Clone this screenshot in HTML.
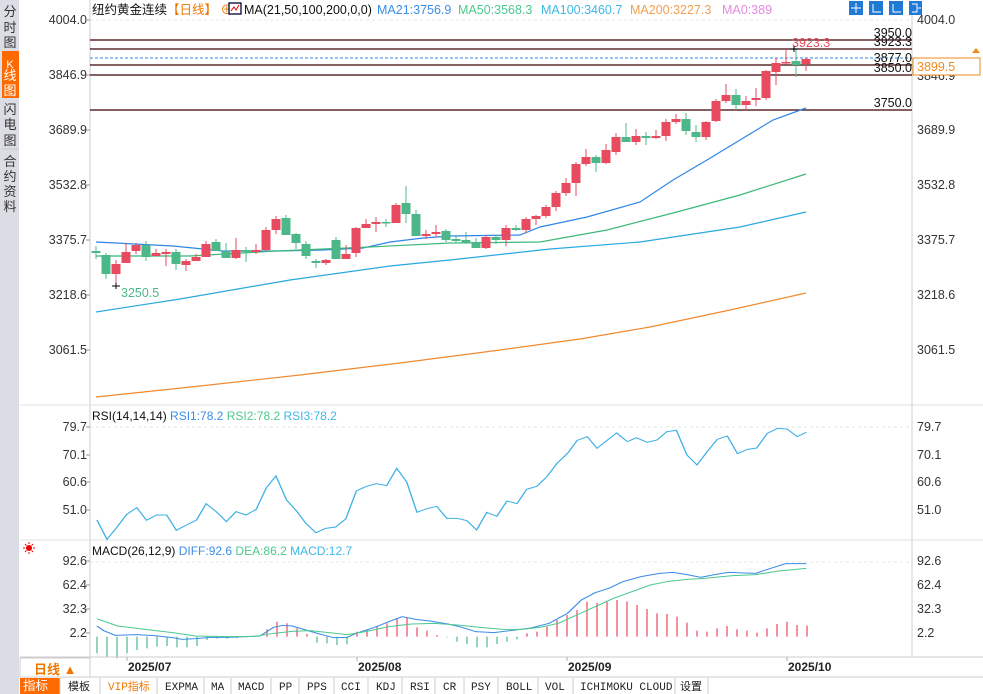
<!DOCTYPE html>
<html><head><meta charset="utf-8"><style>
body{margin:0;width:983px;height:694px;overflow:hidden;background:#fff;font-family:"Liberation Sans","Noto Sans CJK SC",sans-serif;}
svg{position:absolute;left:0;top:0}
</style></head><body>
<svg id="s" width="983" height="694" xmlns="http://www.w3.org/2000/svg" font-family="Liberation Sans, Noto Sans CJK SC, sans-serif" font-size="12">
<rect x="0" y="0" width="19" height="694" fill="#dcdde4"/>
<rect x="2" y="51" width="17" height="47" fill="#ff6a00"/>
<g font-size="13" fill="#333" text-anchor="middle">
<text x="10" y="16">分</text><text x="10" y="32">时</text><text x="10" y="47">图</text>
<text x="10" y="68" fill="#fff" font-size="11">K</text><text x="10" y="80" fill="#fff">线</text><text x="10" y="95" fill="#fff">图</text>
<text x="10" y="114">闪</text><text x="10" y="129">电</text><text x="10" y="145">图</text>
<text x="10" y="166">合</text><text x="10" y="181">约</text><text x="10" y="196">资</text><text x="10" y="211">料</text>
</g>
<line x1="2" y1="149" x2="19" y2="149" stroke="#c8c8d0"/>
<line x1="90" y1="0" x2="90" y2="657" stroke="#ccc"/>
<line x1="912" y1="12" x2="912" y2="657" stroke="#ccc"/>
<line x1="20" y1="405" x2="983" y2="405" stroke="#e0e0e0"/>
<line x1="20" y1="540" x2="983" y2="540" stroke="#e0e0e0"/>
<line x1="90" y1="20" x2="912" y2="20" stroke="#e6e6e6" stroke-dasharray="3,3"/>
<line x1="90" y1="427" x2="912" y2="427" stroke="#e6e6e6" stroke-dasharray="3,3"/>
<line x1="90" y1="562" x2="912" y2="562" stroke="#e6e6e6" stroke-dasharray="3,3"/>
<g fill="#333" font-size="12.5" text-anchor="end" id="la"></g>
<g fill="#333" font-size="12.5" id="ra"></g>
<!-- header -->
<text x="92" y="14" font-size="12.5" fill="#111">纽约黄金连续<tspan fill="#f07800">【日线】 ⊕</tspan></text>
<rect x="229" y="3" width="12" height="11" fill="#fff" stroke="#003" stroke-width="1.3"/>
<polyline points="231,11 234,7 236,10 239,5" fill="none" stroke="#d00"/>
<g font-size="12.5">
<text x="244" y="14" fill="#111">MA(21,50,100,200,0,0)</text>
<text x="377" y="14" fill="#3b8de8">MA21:3756.9</text>
<text x="458" y="14" fill="#4cc98f">MA50:3568.3</text>
<text x="541" y="14" fill="#3fb7e8">MA100:3460.7</text>
<text x="630" y="14" fill="#f0a050">MA200:3227.3</text>
<text x="722" y="14" fill="#e48adf">MA0:389</text>
</g>
<g fill="#1f7ad6"><rect x="849" y="1" width="14" height="14"/><rect x="869" y="1" width="14" height="14"/><rect x="889" y="1" width="14" height="14"/><rect x="909" y="1" width="13" height="14"/></g>
<g stroke="#fff" fill="none"><path d="M856 3v10M851 8h10M873 4v8h8M893 4v8h8M912 4h5v8h-5M918 8h3"/></g>
<!-- levels -->
<g stroke="#3a0000" stroke-width="1.2"><line x1="90" y1="40" x2="912" y2="40"/><line x1="90" y1="49" x2="912" y2="49"/><line x1="90" y1="65" x2="912" y2="65"/><line x1="90" y1="75" x2="912" y2="75"/><line x1="90" y1="110" x2="912" y2="110"/></g>
<line x1="90" y1="58" x2="912" y2="58" stroke="#2f86e6" stroke-dasharray="3,2"/>
<g fill="#111" font-size="12.5" text-anchor="end"><text x="912" y="37">3950.0</text><text x="912" y="46">3923.3</text><text x="912" y="62">3877.0</text><text x="912" y="72">3850.0</text><text x="912" y="107">3750.0</text></g>
<rect x="913" y="58" width="67" height="17" fill="#fff" stroke="#f08a1c"/>
<text x="917" y="71" fill="#f08a1c" font-size="12.5">3899.5</text>
<path d="M972 53l4-5 4 5z" fill="#f08a1c"/>
<g id="ma" fill="none" stroke-width="1.2"></g>
<g id="k"></g>
<text x="792" y="47" fill="#e84a5f" font-size="12.5">3923.3</text>
<path d="M790 49h8M794 46v6M112 286h8M116 283v6" stroke="#000"/>
<text x="121" y="297" fill="#4cb88a" font-size="12.5">3250.5</text>
<!-- RSI -->
<text x="92" y="420" font-size="12" fill="#111">RSI(14,14,14) <tspan fill="#3b8de8">RSI1:78.2</tspan>  <tspan fill="#4cc98f">RSI2:78.2</tspan>  <tspan fill="#3fb7e8">RSI3:78.2</tspan></text>
<g transform="translate(90,405) scale(0.4592,0.3333)"><polyline id="rsi" fill="none" stroke="#3fb0e6" stroke-width="3" points=""/></g>
<!-- MACD -->
<circle cx="29" cy="548" r="3" fill="#e00"/><g stroke="#e00"><path d="M29 542v2M29 552v2M23 548h2M33 548h2M25 544l1.5 1.5M33 544l-1.5 1.5M25 552l1.5-1.5M33 552l-1.5-1.5"/></g>
<text x="92" y="555" font-size="12" fill="#111">MACD(26,12,9) <tspan fill="#3b8de8">DIFF:92.6</tspan>  <tspan fill="#4cc98f">DEA:86.2</tspan>  <tspan fill="#3fb7e8">MACD:12.7</tspan></text>
<g id="hist"></g>
<g transform="translate(90,540) scale(0.4592,0.3333)">
<polyline id="diff" fill="none" stroke="#3b8de8" stroke-width="3"/>
<polyline id="dea" fill="none" stroke="#4cc98f" stroke-width="3"/></g>
<!-- date axis -->
<line x1="20" y1="657" x2="983" y2="657" stroke="#ccc"/>
<line x1="20" y1="677" x2="983" y2="677" stroke="#ccc"/>
<rect x="20" y="658" width="70" height="19" fill="#fff" stroke="#ccc"/>
<text x="34" y="674" font-size="13" font-weight="bold" fill="#f07800">日线 ▲</text>
<g font-size="12" font-weight="bold" fill="#222"><text x="128" y="671">2025/07</text><text x="358" y="671">2025/08</text><text x="568" y="671">2025/09</text><text x="788" y="671">2025/10</text></g>
<g stroke="#aaa"><path d="M127 657v4M357 657v4M567 657v4M787 657v4"/></g>
<rect x="20" y="678" width="40" height="16" fill="#ff6a00"/>
<g font-size="11" fill="#222" font-family="Liberation Mono, Noto Sans CJK SC, monospace" id="tb"></g>
</svg>
<script>
const NS="http://www.w3.org/2000/svg";
function el(p,t,a,txt){const e=document.createElementNS(NS,t);for(const k in a)e.setAttribute(k,a[k]);if(txt!==undefined)e.textContent=txt;document.getElementById(p).appendChild(e);return e;}
[["4004.0",20],["3846.9",75],["3689.9",130],["3532.8",185],["3375.7",240],["3218.6",295],["3061.5",350],["79.7",427],["70.1",455],["60.6",482],["51.0",510],["92.6",561],["62.4",585],["32.3",609],["2.2",633]].forEach(([t,y])=>{
 el("la","text",{x:87,y:y+4},t); el("ra","text",{x:917,y:y+4+(t==="3846.9"?1:0)},t);
 el("la","line",{x1:86,y1:y,x2:90,y2:y,stroke:"#999"});});
const K=[[251,253,246,259,0],[255,274,253,279,0],[264,274,260,285,1],[252,263,243,263,1],[245,251,243,254,1],[245,257,241,261,0],[253,256,249,256,1],[252,254,249,266,1],[252,264,249,270,0],[261,265,259,271,1],[257,261,254,261,1],[244,257,241,257,1],[242,251,239,251,0],[251,258,243,258,0],[250,258,238,259,1],[250,252,247,262,0],[250,252,244,254,1],[230,250,227,251,1],[219,230,216,234,1],[218,235,215,235,0],[234,243,233,249,0],[244,256,241,259,0],[261,263,259,268,0],[260,263,259,265,1],[240,259,237,259,0],[254,259,245,259,1],[228,253,227,257,1],[224,228,219,228,1],[222,224,217,232,1],[222,223,219,227,0],[205,223,203,223,1],[203,214,186,223,0],[214,236,210,236,0],[234,236,230,239,1],[232,234,225,237,1],[231,240,229,242,0],[239,241,235,242,0],[240,243,232,244,0],[242,248,238,248,0],[237,248,235,249,1],[237,240,235,244,0],[228,240,225,246,1],[228,230,225,231,0],[219,230,217,233,1],[216,219,215,225,1],[207,216,205,218,1],[193,207,191,211,1],[183,193,178,196,1],[164,183,162,196,1],[157,164,149,166,1],[157,163,155,172,0],[150,163,144,164,1],[137,152,133,155,1],[137,142,123,142,0],[136,142,129,145,1],[136,138,132,145,0],[136,138,130,139,1],[122,136,119,141,1],[119,122,114,124,1],[119,131,113,135,0],[132,137,125,142,0],[122,137,121,140,1],[101,121,99,122,1],[95,101,84,103,1],[95,105,89,110,0],[101,105,96,110,1],[98,100,88,106,1],[71,98,70,100,1],[63,72,58,85,1],[62,63,49,64,1],[61,65,49,77,0],[59,64,58,71,1]];
K.forEach((c,i)=>{const x=96+10*i,col=c[4]?"#e84a5f":"#4cb88a";
 el("k","line",{x1:x,y1:c[2],x2:x,y2:c[3],stroke:col});
 el("k","rect",{x:x-4.5,y:c[0],width:9,height:Math.max(1.5,c[1]-c[0]),fill:col});});
const MA=[["#2f86e6","96,242 173,246 223,251 277,251 323,250 363,248 390,242 423,238 450,236 520,235 540,227 587,217 640,202 673,180 707,160 740,140 773,120 806,108"],
["#3cb878","96,256 190,256 277,251 370,247 450,243 540,242 607,230 673,213 740,195 806,174"],
["#29a8e0","96,312 180,299 290,280 390,266 450,260 550,249 640,242 740,227 806,212"],
["#f08a30","96,397 200,386 300,375 400,363 500,350 580,339 650,327 730,310 806,293"]];
MA.forEach(m=>el("ma","polyline",{points:m[1],stroke:m[0]}));
const R=[[15,345],[37,403],[58,368],[80,328],[102,308],[123,346],[145,330],[167,330],[188,376],[210,360],[232,345],[253,296],[275,320],[297,350],[318,320],[340,330],[362,313],[384,248],[405,213],[428,285],[450,318],[470,355],[492,383],[513,370],[535,366],[557,342],[580,258],[602,244],[624,236],[646,242],[668,190],[690,232],[712,322],[734,311],[755,304],[777,340],[799,340],[821,347],[842,375],[864,322],[886,334],[908,288],[930,296],[951,253],[973,244],[995,215],[1017,175],[1040,145],[1061,106],[1083,95],[1104,130],[1125,107],[1147,84],[1170,110],[1190,98],[1213,112],[1235,105],[1256,80],[1277,76],[1300,150],[1322,180],[1344,140],[1366,103],[1388,93],[1410,146],[1432,133],[1452,129],[1475,85],[1497,70],[1518,72],[1540,95],[1560,82]];
document.getElementById("rsi").setAttribute("points",R.map(p=>p.join(",")).join(" "));
const D=[[15,258],[30,272],[55,286],[100,284],[140,287],[180,293],[200,298],[230,296],[260,292],[300,292],[340,290],[370,288],[400,262],[420,256],[440,258],[470,270],[500,282],[530,293],[560,292],[580,280],[620,262],[660,240],[680,230],[710,238],[740,243],[780,252],[810,262],[840,275],[880,278],[920,271],[960,264],[1000,250],[1040,220],[1070,180],[1100,158],[1130,145],[1160,125],[1200,110],[1240,100],[1270,97],[1300,104],[1330,112],[1360,104],[1390,97],[1450,100],[1480,86],[1515,71],[1560,71]];
const E=[[15,236],[60,258],[120,268],[180,278],[230,288],[300,290],[360,289],[400,280],[440,274],[480,272],[520,278],[560,284],[600,275],[650,260],[700,252],[750,250],[800,255],[850,262],[900,268],[940,268],[980,262],[1020,250],[1060,225],[1100,200],[1140,175],[1180,155],[1220,135],[1260,124],[1300,118],[1330,116],[1360,112],[1400,107],[1450,104],[1500,93],[1560,85]];
document.getElementById("diff").setAttribute("points",D.map(p=>p.join(",")).join(" "));
document.getElementById("dea").setAttribute("points",E.map(p=>p.join(",")).join(" "));
const H=[340,352,355,340,330,325,320,318,322,322,318,300,296,296,294,292,291,268,245,250,265,282,308,310,315,313,275,268,258,250,235,232,262,272,285,292,305,312,322,322,312,305,298,280,275,260,240,225,210,185,188,185,180,184,195,207,220,222,230,248,272,275,265,258,268,272,278,265,252,245,255,257];
H.forEach((v,i)=>{const x=97+10*i,y0=540+290/3,y1=540+v/3;
 el("hist","line",{x1:x,y1:y0,x2:x,y2:y1,stroke:v<290?"#e84a5f":"#4cb88a","stroke-width":1.2});});
const T=[["指标",23,"#fff"],["模板",68],["VIP指标",108,"#f07800"],["EXPMA",165],["MA",211],["MACD",238],["PP",279],["PPS",307],["CCI",341],["KDJ",376],["RSI",410],["CR",443],["PSY",471],["BOLL",506],["VOL",545],["ICHIMOKU CLOUD",580],["设置",680]];
T.forEach(t=>{el("tb","text",{x:t[1],y:690,fill:t[2]||"#222","font-size":t[0]==="指标"?12.5:11},t[0]);});
[60,100,157,204,231,271,299,334,368,402,435,464,498,538,573,675,708].forEach(x=>el("tb","line",{x1:x,y1:678,x2:x,y2:694,stroke:"#ccc"}));
</script>
</body></html>
